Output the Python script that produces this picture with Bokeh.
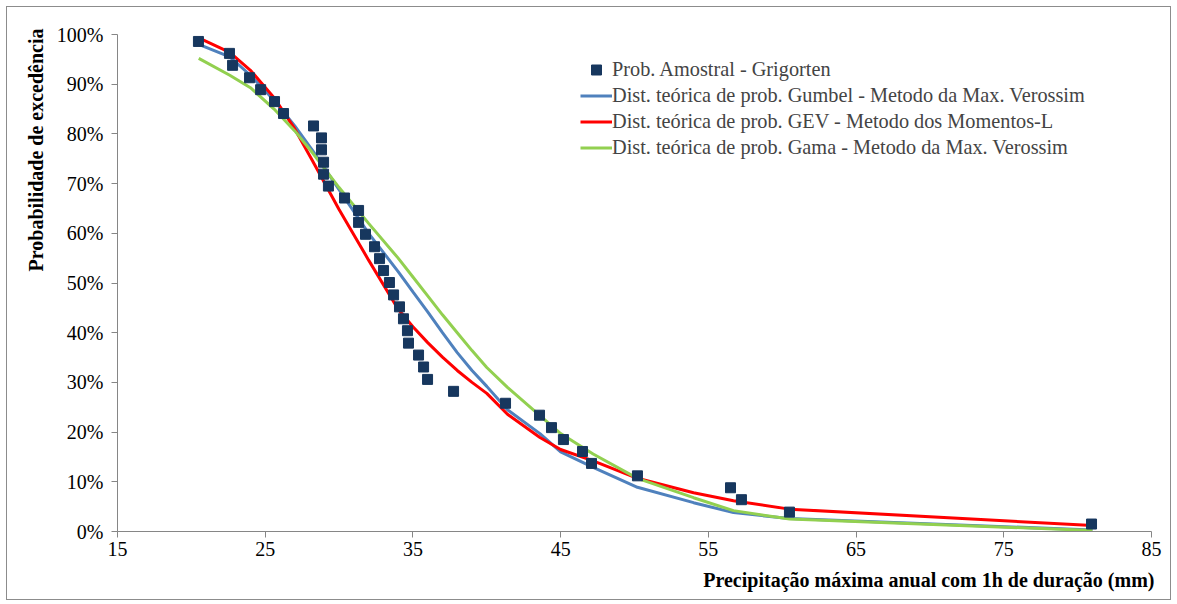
from bokeh.plotting import figure
from bokeh.models import Range1d, FixedTicker, NumeralTickFormatter, Legend, LegendItem, Title
from bokeh.embed import file_html
from bokeh.resources import INLINE

# Sample (Grigorten plotting positions)
sample_x = [20.48, 22.58, 22.79, 23.94, 24.69, 25.63, 26.24, 28.27, 28.81, 28.81,
            28.95, 28.95, 29.28, 30.37, 31.32, 31.32, 31.79, 32.40, 32.74, 33.01,
            33.41, 33.69, 34.09, 34.36, 34.63, 34.70, 35.38, 35.72, 35.99, 37.75,
            41.27, 43.57, 44.38, 45.19, 46.48, 47.09, 50.20, 56.50, 57.24, 60.49, 80.94]
sample_p = [98.6, 96.2, 93.8, 91.3, 88.9, 86.5, 84.1, 81.6, 79.2, 76.8,
            74.3, 71.9, 69.5, 67.1, 64.6, 62.2, 59.8, 57.3, 54.9, 52.5,
            50.1, 47.6, 45.2, 42.8, 40.4, 37.9, 35.5, 33.1, 30.6, 28.2,
            25.8, 23.4, 20.9, 18.5, 16.1, 13.7, 11.2, 8.8, 6.4, 3.9, 1.5]

# Theoretical curves
curve_x = [20.5, 22.6, 24.0, 25.6, 27.0, 28.2, 30.0, 32.0, 34.0, 35.0, 36.0, 37.0, 38.0,
           39.0, 40.0, 41.4, 43.6, 45.0, 47.2, 50.2, 54.0, 56.7, 60.5, 81.0]
gumbel = [98.0, 95.5, 91.8, 86.8, 81.6, 76.7, 68.8, 60.0, 52.3, 48.2, 44.2, 40.0, 36.0,
          32.4, 29.2, 24.5, 19.7, 16.0, 12.9, 8.9, 5.8, 3.8, 2.6, 0.3]
gev = [99.3, 96.4, 92.8, 87.3, 81.0, 74.6, 64.8, 54.6, 44.7, 41.2, 38.0, 35.1, 32.4,
       30.0, 27.8, 23.6, 18.9, 16.5, 14.2, 10.7, 7.8, 6.2, 4.5, 1.2]
gama = [95.2, 91.8, 89.3, 85.0, 80.6, 76.2, 69.2, 62.0, 55.0, 51.2, 47.4, 43.6, 40.0,
        36.4, 33.0, 29.0, 23.3, 19.7, 15.6, 10.7, 6.8, 4.2, 2.5, 0.2]

x_ticks = [15, 25, 35, 45, 55, 65, 75, 85]
y_ticks = [0.0, 0.1, 0.2, 0.3, 0.4, 0.5, 0.6, 0.7, 0.8, 0.9, 1.0]

labels = ["Prob. Amostral - Grigorten",
          "Dist. teórica de prob. Gumbel - Metodo da Max. Verossim",
          "Dist. teórica de prob. GEV - Metodo dos Momentos-L",
          "Dist. teórica de prob. Gama - Metodo da Max. Verossim"]
x_title = "Precipitação máxima anual com 1h de duração (mm)"
y_title = "Probabilidade de excedência"

FONT = "Liberation Serif"
AXIS_COLOR = "#868686"

p = figure(frame_width=1034, frame_height=497, output_backend="svg", toolbar_location=None,
           x_range=Range1d(15, 85), y_range=Range1d(0, 1),
           min_border_left=110, min_border_right=19, min_border_top=27, min_border_bottom=66)
p.styles = {"margin": "6px", "border": "1px solid #8c8c8c"}
p.xgrid.visible = False
p.ygrid.visible = False
p.outline_line_color = None
p.background_fill_color = "white"
p.border_fill_color = "white"

r_g = p.line(curve_x, [v / 100 for v in gumbel], line_color="#4F81BD", line_width=3)
r_e = p.line(curve_x, [v / 100 for v in gev], line_color="#FF0000", line_width=3)
r_a = p.line(curve_x, [v / 100 for v in gama], line_color="#92D050", line_width=3)
r_s = p.scatter(sample_x, [v / 100 for v in sample_p], marker="square", size=10,
                fill_color="#17375E", line_color="#17375E")

for ax in (p.xaxis[0], p.yaxis[0]):
    ax.axis_line_color = AXIS_COLOR
    ax.major_tick_line_color = AXIS_COLOR
    ax.minor_tick_line_color = None
    ax.major_tick_in = 0
    ax.major_tick_out = 6
    ax.major_label_text_font = FONT
    ax.major_label_text_font_size = "20px"
    ax.major_label_text_color = "black"

p.xaxis[0].ticker = FixedTicker(ticks=x_ticks)
p.yaxis[0].ticker = FixedTicker(ticks=y_ticks)
p.yaxis[0].formatter = NumeralTickFormatter(format="0%")
p.xaxis[0].major_label_standoff = 4
p.yaxis[0].major_label_standoff = 8

ytitle = Title(text=y_title, align="right", offset=-6, standoff=13,
               text_font=FONT, text_font_size="20px", text_font_style="bold", text_color="black")
p.add_layout(ytitle, "left")
xtitle = Title(text=x_title, align="right", offset=-3, standoff=17,
               text_font=FONT, text_font_size="20px", text_font_style="bold", text_color="black")
p.add_layout(xtitle, "below")

legend = Legend(items=[LegendItem(label=labels[0], renderers=[r_s]),
                       LegendItem(label=labels[1], renderers=[r_g]),
                       LegendItem(label=labels[2], renderers=[r_e]),
                       LegendItem(label=labels[3], renderers=[r_a])],
                location=(463, 371), border_line_color=None, background_fill_alpha=0,
                label_text_font=FONT, label_text_font_size="20.3px",
                glyph_width=32, glyph_height=25, label_height=25, spacing=1,
                padding=0, margin=0, label_standoff=0)
p.add_layout(legend)

open("out.html", "w").write(file_html(p, INLINE))
